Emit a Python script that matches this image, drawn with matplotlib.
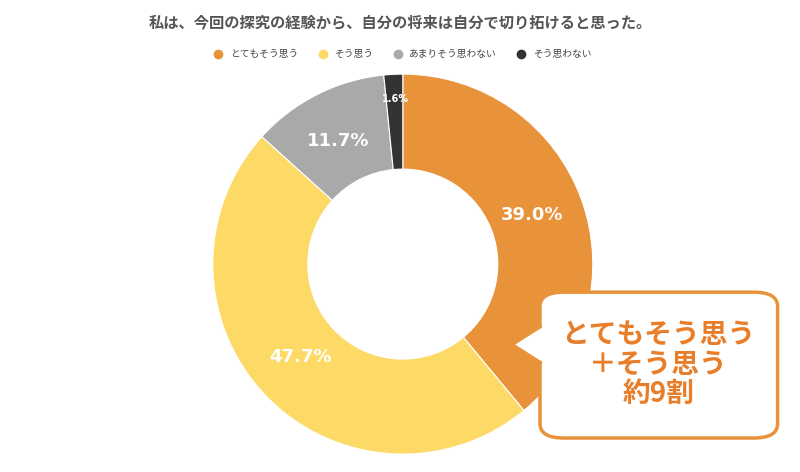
import matplotlib.pyplot as plt
from matplotlib.patches import FancyBboxPatch, Polygon

plt.rcParams['font.family'] = 'Noto Sans CJK JP'

title = '私は、今回の探究の経験から、自分の将来は自分で切り拓けると思った。'
labels = ['とてもそう思う', 'そう思う', 'あまりそう思わない', 'そう思わない']
values = [39.0, 47.7, 11.7, 1.6]
colors = ['#E8923A', '#FDD966', '#A9A9A9', '#333333']

fig = plt.figure(figsize=(8, 4.72), dpi=100)
fig.patch.set_facecolor('white')

ax = fig.add_axes([0.266, 0.038, 0.475, 0.805])
wedges, _ = ax.pie(values, colors=colors, startangle=90, counterclock=False,
                   wedgeprops=dict(width=0.5, edgecolor='white', linewidth=0.8))
ax.set_xlim(-1.0, 1.0)
ax.set_ylim(-1.0, 1.0)
ax.set_aspect('equal')

# パーセント表示
pos = [(0.68, 0.26), (-0.54, -0.49), (-0.34, 0.65), (-0.04, 0.87)]
for v, (x, y) in zip(values, pos):
    size = 7 if v < 5 else 13
    ax.text(x, y, f'{v:.1f}%', ha='center', va='center', color='white',
            fontsize=size, fontweight='bold', fontfamily='DejaVu Sans')

fig.text(0.5, 0.952, title, ha='center', va='center', fontsize=11,
         color='#555555', fontweight='bold')

# 凡例
handles = [plt.Line2D([], [], marker='o', linestyle='', color=c, markersize=6)
           for c in colors]
fig.legend(handles, labels, loc='center', bbox_to_anchor=(0.5, 0.885), ncol=4,
           frameon=False, fontsize=7, handletextpad=0.2, columnspacing=1.5,
           labelcolor='#444444')

# 吹き出し
box = FancyBboxPatch((0.675, 0.072), 0.297, 0.309,
                     boxstyle='round,pad=0,rounding_size=0.03',
                     transform=fig.transFigure, facecolor='white',
                     edgecolor='#E8923A', linewidth=2.5, zorder=5)
fig.add_artist(box)
tail = Polygon([(0.677, 0.31), (0.64, 0.27), (0.677, 0.23)],
               closed=False, transform=fig.transFigure, facecolor='white',
               edgecolor='#E8923A', linewidth=2.5, zorder=6)
fig.add_artist(tail)
fig.add_artist(Polygon([(0.68, 0.305), (0.647, 0.27), (0.68, 0.235)],
                       transform=fig.transFigure, facecolor='white',
                       edgecolor='none', zorder=7))
fig.text(0.823, 0.228, 'とてもそう思う\n＋そう思う\n約9割', ha='center',
         va='center', fontsize=20, color='#E87E2A', fontweight='bold',
         linespacing=1.05, zorder=8)

fig.savefig('out.png', dpi=100)
